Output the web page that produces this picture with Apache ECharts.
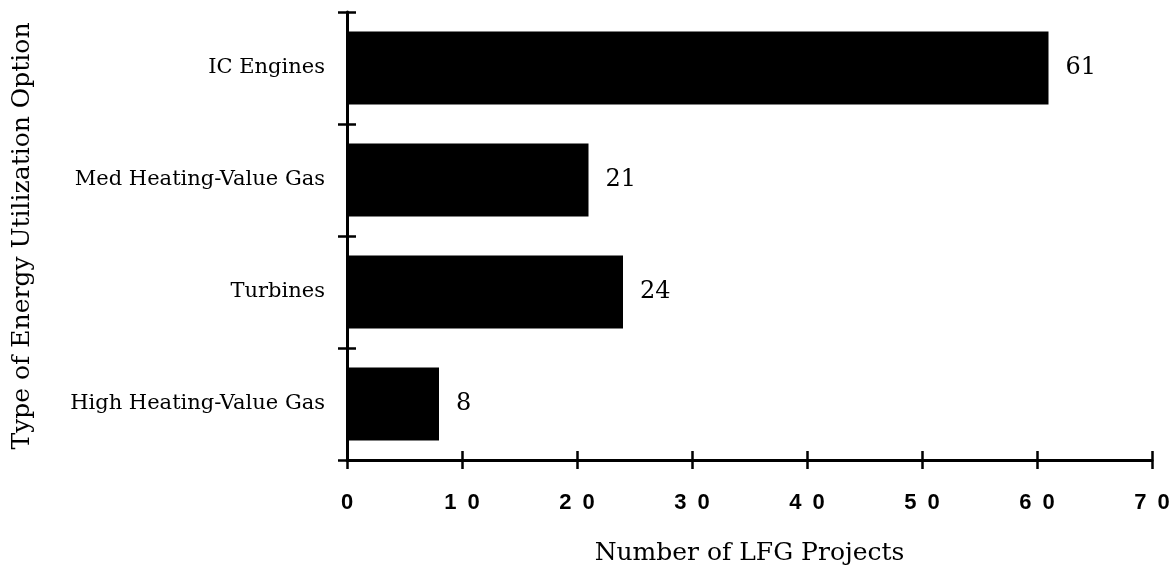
<!DOCTYPE html>
<html>
<head>
<meta charset="utf-8">
<script src="https://cdn.jsdelivr.net/npm/echarts@6/dist/echarts.min.js"></script>
<style>
html,body{margin:0;padding:0;background:#fff;}
#chart{width:1174px;height:571px;}
</style>
</head>
<body>
<div id="chart"></div>
<script>
const categories = ["IC Engines", "Med Heating-Value Gas", "Turbines", "High Heating-Value Gas"];
const projects = [61, 21, 24, 8];
const xTitle = "Number of LFG Projects";
const yTitle = "Type of Energy Utilization Option";

const serif = "'DejaVu Serif', 'Liberation Serif', serif";
const sans = "'Liberation Sans', Arial, sans-serif";
const lineStyle = {color: '#000', width: 3};
const tickStyle = {color: '#000', width: 2.5};

const chart = echarts.init(document.getElementById('chart'), null, {renderer: 'canvas'});
chart.setOption({
  animation: false,
  backgroundColor: '#fff',
  grid: {left: 347, right: 22, top: 12, bottom: 110, containLabel: false},
  xAxis: [{
    type: 'value', min: 0, max: 70, interval: 10, position: 'bottom',
    axisLine: {show: true, lineStyle: lineStyle},
    axisTick: {show: true, inside: false, length: 9, lineStyle: tickStyle},
    splitLine: {show: false},
    axisLabel: {
      color: '#000', fontFamily: sans, fontWeight: 'bold', fontSize: 22, margin: 32,
      formatter: v => String(v).split('').join('\u2002')
    },
    name: xTitle, nameLocation: 'middle', nameGap: 81,
    nameTextStyle: {color: '#000', fontFamily: serif, fontSize: 25}
  }, {
    type: 'value', min: 0, max: 70, interval: 10, position: 'bottom',
    axisLine: {show: false},
    axisTick: {show: true, inside: true, length: 9, lineStyle: tickStyle},
    splitLine: {show: false},
    axisLabel: {show: false}
  }],
  yAxis: [{
    type: 'category', data: categories, inverse: true, position: 'left',
    axisLine: {show: true, lineStyle: lineStyle},
    axisTick: {show: true, inside: false, length: 9, lineStyle: tickStyle},
    axisLabel: {color: '#000', fontFamily: serif, fontSize: 21, margin: 22},
    name: yTitle, nameLocation: 'middle', nameGap: 312, nameRotate: 90,
    nameTextStyle: {color: '#000', fontFamily: serif, fontSize: 25}
  }, {
    type: 'category', data: categories, inverse: true, position: 'left',
    axisLine: {show: false},
    axisTick: {show: true, inside: true, length: 9, lineStyle: tickStyle},
    axisLabel: {show: false}
  }],
  series: [{
    type: 'bar', data: projects, xAxisIndex: 0, yAxisIndex: 0,
    barCategoryGap: '35%',
    itemStyle: {color: '#000'},
    label: {show: true, position: 'right', distance: 17, color: '#000', fontFamily: serif, fontSize: 24}
  }]
});
</script>
</body>
</html>
